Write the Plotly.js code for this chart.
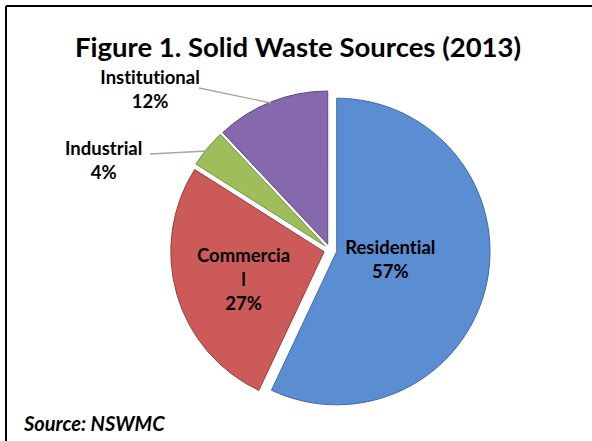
<!DOCTYPE html>
<html>
<head>
<meta charset="utf-8">
<script src="https://cdn.plot.ly/plotly-3.0.1.min.js"></script>
<style>
  html, body { margin: 0; padding: 0; background: #ffffff; }
  #chart { width: 592px; height: 441px; }
  #chart text { font-variant-ligatures: none; font-feature-settings: "liga" 0, "clig" 0; }
</style>
</head>
<body>
<div id="chart"></div>
<script>
// Data
const categories = ['Residential', 'Commercial', 'Industrial', 'Institutional'];
const shares = [57, 27, 4, 12];
const displayLabels = ['Residential', 'Commercia<br>l', 'Industrial', 'Institutional'];
const sliceColors = ['#5B8DD3', '#CC5A58', '#9DBE5A', '#8669AC'];
const edgeColors = ['#3F6BA8', '#9E3B3A', '#76913C', '#5E4780'];
const titleText = 'Figure 1. Solid Waste Sources (2013)';
const sourceText = 'Source: NSWMC';

const FONT = 'Lato, Carlito, Calibri, "Open Sans", sans-serif';

const total = shares.reduce((a, b) => a + b, 0);
const pctText = shares.map(v => Math.round(v / total * 100) + '%');

const trace = {
  type: 'pie',
  labels: categories,
  values: shares,
  sort: false,
  direction: 'clockwise',
  rotation: 0,
  pull: [0.045, 0.04, 0.04, 0.04],
  marker: { colors: sliceColors, line: { color: edgeColors, width: 1 } },
  textinfo: 'none',
  hoverinfo: 'label+percent',
  showlegend: false,
  domain: { x: [0.2868, 0.8280], y: [0.0698, 0.7964] }
};

// label placements (style only) per category
const labelPos = [
  { x: 390, y: 259 },
  { x: 243, y: 279 },
  { x: 103, y: 160 },
  { x: 150, y: 89 }
];

const W = 592, H = 441;
const annotations = categories.map((c, i) => ({
  xref: 'paper', yref: 'paper',
  x: labelPos[i].x / W, y: 1 - labelPos[i].y / H,
  xanchor: 'center', yanchor: 'middle',
  text: '<b>' + displayLabels[i] + '<br>' + pctText[i] + '</b>',
  showarrow: false,
  align: 'center',
  font: { family: FONT, size: 18.5, color: '#000000' }
}));

annotations.push({
  xref: 'paper', yref: 'paper',
  x: 298 / W, y: 1 - 47 / H,
  xanchor: 'center', yanchor: 'middle',
  text: '<b>' + titleText + '</b>',
  showarrow: false,
  font: { family: FONT, size: 27.5, color: '#000000' }
});
annotations.push({
  xref: 'paper', yref: 'paper',
  x: 21 / W, y: 1 - 423 / H,
  xanchor: 'left', yanchor: 'middle',
  text: '<b><i>' + sourceText + '</i></b>',
  showarrow: false,
  font: { family: FONT, size: 20, color: '#000000' }
});

const px = (x) => x / W, py = (y) => 1 - y / H;
const shapes = [
  // chart frame (left and top edges visible)
  { type: 'line', xref: 'paper', yref: 'paper', x0: px(6), y0: py(6), x1: px(600), y1: py(6), line: { color: '#000', width: 2 } },
  { type: 'line', xref: 'paper', yref: 'paper', x0: px(6), y0: py(6), x1: px(6), y1: py(445), line: { color: '#000', width: 2 } },
  // leader lines
  { type: 'line', xref: 'paper', yref: 'paper', x0: px(199), y0: py(88), x1: px(271), y1: py(103), line: { color: '#A6A6A6', width: 1.3 } },
  { type: 'line', xref: 'paper', yref: 'paper', x0: px(150), y0: py(154), x1: px(207), y1: py(151), line: { color: '#A6A6A6', width: 1.3 } }
];

const layout = {
  width: W, height: H,
  margin: { l: 0, r: 0, t: 0, b: 0 },
  paper_bgcolor: '#ffffff',
  annotations: annotations,
  shapes: shapes,
  font: { family: FONT }
};

Plotly.newPlot('chart', [trace], layout, { displayModeBar: false, staticPlot: true });
</script>
</body>
</html>
